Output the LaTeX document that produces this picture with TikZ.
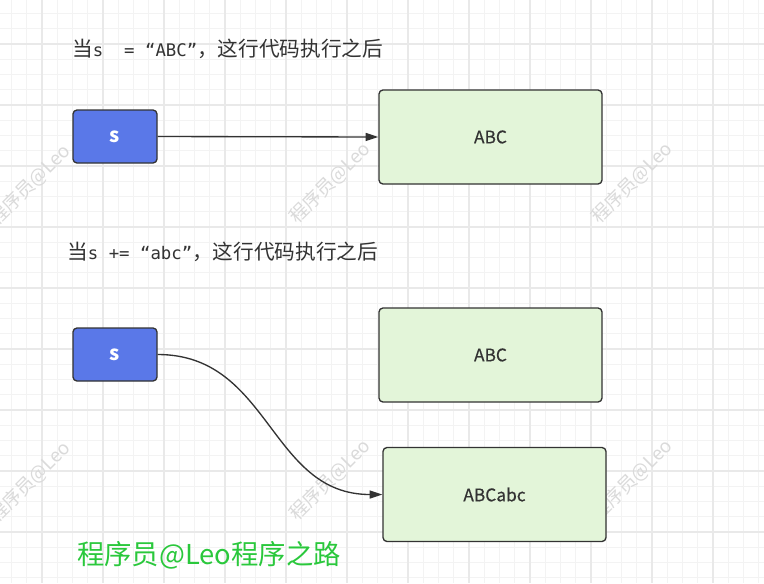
\documentclass[tikz,border=0pt]{standalone}
\usepackage{fontspec}
\setmainfont{Noto Sans CJK SC}
\newfontfamily\cjk{Noto Sans CJK SC}
\newfontfamily\cjkmed[FakeBold=0.4]{Noto Sans CJK SC}
\newfontfamily\monof{DejaVu Sans Mono}
\usetikzlibrary{arrows.meta}
\definecolor{gridminor}{HTML}{F3F3F3}
\definecolor{gridmajor}{HTML}{E9E9E9}
\definecolor{sblue}{HTML}{5A78E8}
\definecolor{boxgreen}{HTML}{E3F5D9}
\definecolor{edge}{HTML}{333333}
\definecolor{txt}{HTML}{333333}
\definecolor{brandgreen}{HTML}{2AC83C}
\definecolor{wmgray}{HTML}{DADADA}
\begin{document}
\begin{tikzpicture}[x=0.75pt,y=-0.75pt,
  sbox/.style={draw=edge, line width=1pt, fill=sblue, rounded corners=3pt,
    minimum width=63pt, minimum height=39.75pt, inner sep=0pt,
    text=white, font=\cjk\bfseries\fontsize{15}{15}\selectfont},
  valbox/.style={draw=edge, line width=1pt, fill=boxgreen, rounded corners=3pt,
    minimum width=167.25pt, minimum height=70.5pt, inner sep=0pt,
    text=txt, font=\cjkmed\fontsize{13}{13}\selectfont},
  link/.style={draw=edge, line width=1pt, -{Triangle[length=9.5pt,width=6pt]}},
  heading/.style={anchor=west, inner sep=0pt, text=txt},
  watermark/.style={rotate=45, text=wmgray, inner sep=0pt, font=\cjk\fontsize{14}{14}\selectfont},
]
\useasboundingbox (0,0) rectangle (764,583);
\fill[white] (0,0) rectangle (764,583);
% grid
\foreach \i in {-2,...,47} \draw[gridminor, line width=0.75pt] ({42+15.25*\i},0) -- ({42+15.25*\i},583);
\foreach \j in {-2,...,35} \draw[gridminor, line width=0.75pt] (0,{44+15.25*\j}) -- (764,{44+15.25*\j});
\foreach \k in {0,...,11} \draw[gridmajor, line width=1.1pt] ({42+61*\k},0) -- ({42+61*\k},583);
\foreach \k in {0,...,8} \draw[gridmajor, line width=1.1pt] (0,{44+61*\k}) -- (764,{44+61*\k});
% watermarks
\node[watermark] (wm1) at (30,185) {程序员@Leo};
\node[watermark] (wm2) at (330,183) {程序员@Leo};
\node[watermark] (wm3) at (632,183) {程序员@Leo};
\node[watermark] (wm4) at (30,482) {程序员@Leo};
\node[watermark] (wm5) at (330,480) {程序员@Leo};
\node[watermark] (wm6) at (632,480) {程序员@Leo};
% headings
\node[heading] (h1) at (72,48.5) {\cjk\fontsize{15.5}{15.5}\selectfont 当{\monof\fontsize{13}{13}\selectfont s\ \ =\ “ABC”}，这行代码执行之后};
\node[heading] (h2) at (67,251.5) {\cjk\fontsize{15.5}{15.5}\selectfont 当{\monof\fontsize{13}{13}\selectfont s\ +=\ “abc”}，这行代码执行之后};
% boxes
\node[sbox] (s1) at (115,136.5) {s};
\node[valbox] (v1) at (490.5,137) {ABC};
\node[sbox] (s2) at (115,354.5) {s};
\node[valbox] (v2) at (490.5,355) {ABC};
\node[valbox] (v3) at (494.5,494.5) {ABCabc};
% connectors
\draw[link] (s1.east) -- (v1.west);
\draw[link] (s2.east) .. controls +(113,0) and +(-113,0) .. (v3.west);
% brand
\node[anchor=west, inner sep=0pt, text=brandgreen, font=\cjk\fontsize{20.5}{21}\selectfont] (brand) at (77,555) {程序员@Leo程序之路};
\end{tikzpicture}
\end{document}
